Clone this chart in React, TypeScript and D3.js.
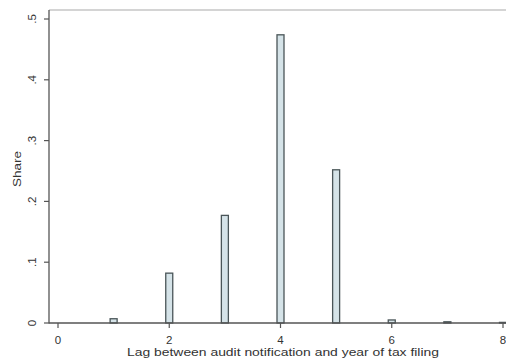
import React from "react";
import * as d3 from "d3";

// Share of audits by lag (years) between audit notification and tax filing year
const lags = [0, 1, 2, 3, 4, 5, 6, 7, 8];
const shares = [0.0, 0.007, 0.082, 0.177, 0.474, 0.252, 0.005, 0.002, 0.001];
const yTicks = [0, 0.1, 0.2, 0.3, 0.4, 0.5];
const xTicks = [0, 2, 4, 6, 8];

const W = 506;
const H = 364;
const left = 49;
const top = 10;
const bottom = 323;

const fmtY = (v: number) => (v === 0 ? "0" : d3.format(".1f")(v).replace(/^0/, ""));

export default function App() {
  const x = d3.scaleLinear().domain([0, 8]).range([58, 503]);
  const y = d3.scaleLinear().domain([0, 0.5]).range([bottom, 19]);
  const barW = 7;
  const font = "'Liberation Sans', Arial, sans-serif";
  const ink = "#333";
  const axisCol = "#555";

  return (
    <svg
      width={W}
      height={H}
      style={{ position: "absolute", left: 0, top: 0, background: "#fff" }}
      fontFamily={font}
    >
      {/* plot frame */}
      <line x1={left} y1={top} x2={W} y2={top} stroke="#aaa" strokeWidth={1.2} />
      {/* bars */}
      {lags.map((l, i) => {
        const h = bottom - y(shares[i]);
        if (h <= 0) return null;
        return (
          <rect
            key={l}
            x={x(l) - barW / 2}
            y={y(shares[i])}
            width={barW}
            height={h}
            fill="#d5e3e8"
            stroke="#4a5558"
            strokeWidth={1.3}
          />
        );
      })}
      {/* y axis */}
      <line x1={left} y1={top} x2={left} y2={bottom + 0.5} stroke={axisCol} strokeWidth={1.3} />
      {yTicks.map((t) => (
        <g key={t}>
          <line x1={left - 5} x2={left} y1={y(t)} y2={y(t)} stroke={axisCol} strokeWidth={1.2} />
          <text
            transform={`translate(36,${y(t)}) rotate(-90)`}
            textAnchor="middle"
            fontSize={11.5}
            fill={ink}
          >
            {fmtY(t)}
          </text>
        </g>
      ))}
      <text
        transform={`translate(21,169) rotate(-90)`}
        textAnchor="middle"
        fontSize={11.5}
        fill={ink}
        textLength={36}
        lengthAdjust="spacingAndGlyphs"
      >
        Share
      </text>
      {/* x axis */}
      <line x1={left} y1={bottom} x2={W} y2={bottom} stroke={axisCol} strokeWidth={1.3} />
      {xTicks.map((t) => (
        <g key={t}>
          <line x1={x(t)} x2={x(t)} y1={bottom} y2={bottom + 5} stroke={axisCol} strokeWidth={1.2} />
          <text x={x(t)} y={344} textAnchor="middle" fontSize={11.5} fill={ink}>
            {t}
          </text>
        </g>
      ))}
      <text
        x={283}
        y={356}
        textAnchor="middle"
        fontSize={11.5}
        fill={ink}
        textLength={312}
        lengthAdjust="spacingAndGlyphs"
      >
        Lag between audit notification and year of tax filing
      </text>
    </svg>
  );
}
